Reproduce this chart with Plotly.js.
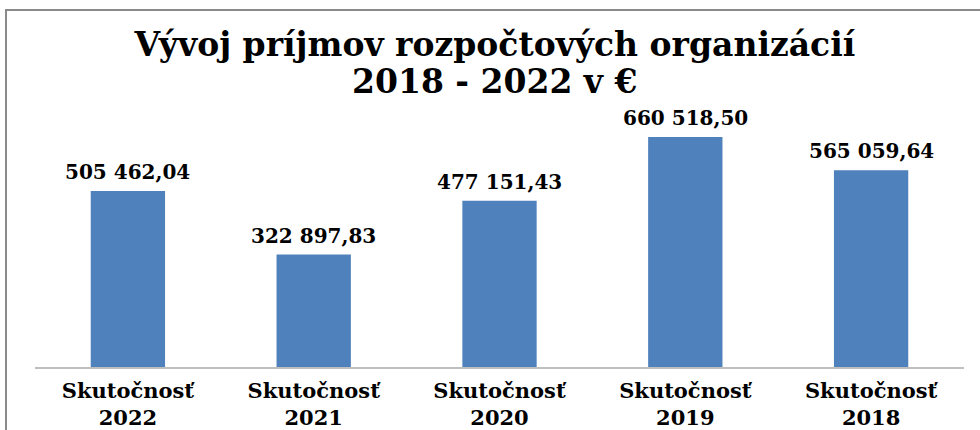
<!DOCTYPE html>
<html>
<head>
<meta charset="utf-8">
<script src="https://cdn.plot.ly/plotly-3.0.1.min.js"></script>
<style>
  html, body { margin: 0; padding: 0; background: #fff; }
  #wrap { position: relative; width: 980px; height: 430px; }
  #chart { width: 980px; height: 430px; }
  #frame { position: absolute; left: 5px; top: 9px; right: 0; bottom: 0;
           border-left: 2px solid #8a8a8a; border-top: 2px solid #8a8a8a; pointer-events: none; }
</style>
</head>
<body>
<div id="wrap">
  <div id="chart"></div>
  <div id="frame"></div>
</div>
<script>
const categoryWord = "Skutočnosť";
const years = ["2022", "2021", "2020", "2019", "2018"];
const values = [505462.04, 322897.83, 477151.43, 660518.50, 565059.64];
const titleLine1 = "Vývoj príjmov rozpočtových organizácií";
const titleLine2 = "2018 - 2022 v €";

const categories = years.map(y => categoryWord + "<br>" + y);

function fmt(v) {
  const parts = v.toFixed(2).split(".");
  const intPart = parts[0].replace(/\B(?=(\d{3})+(?!\d))/g, " ");
  return intPart + "," + parts[1];
}

const wideSerif = "DejaVu Serif, serif";

const trace = {
  type: "bar",
  x: categories,
  y: values,
  marker: { color: "#4F81BD" },
  hoverinfo: "none"
};

const annotations = categories.map((c, i) => ({
  x: c, y: values[i], xref: "x", yref: "y",
  text: "<b>" + fmt(values[i]) + "</b>",
  showarrow: false, yanchor: "bottom", yshift: 5,
  font: { family: wideSerif, size: 20, color: "#000" }
}));

annotations.push({
  x: 0.495, y: 1 + 19 / 267, xref: "paper", yref: "paper",
  text: "<b>" + titleLine2 + "</b>",
  showarrow: false, xanchor: "center", yanchor: "middle",
  font: { family: wideSerif, size: 33, color: "#000" }
});

const layout = {
  width: 980, height: 430,
  margin: { l: 35, r: 16, t: 100, b: 63 },
  paper_bgcolor: "#fff", plot_bgcolor: "#fff",
  bargap: 0.6,
  showlegend: false,
  title: {
    text: "<b>" + titleLine1 + "</b>",
    x: 0.505, xref: "container", xanchor: "center",
    y: 1 - 44 / 430, yref: "container", yanchor: "middle",
    font: { family: wideSerif, size: 33, color: "#000" }
  },
  xaxis: {
    type: "category",
    showline: true, linecolor: "#bfbfbf", linewidth: 1.5,
    ticks: "", showgrid: false, zeroline: false,
    ticklabelstandoff: 4,
    tickfont: { family: wideSerif, size: 21, color: "#000" },
    tickprefix: "<b>", ticksuffix: "</b>"
  },
  yaxis: {
    range: [0, 766800],
    visible: false, showgrid: false, zeroline: false, fixedrange: true
  },
  annotations: annotations
};

Plotly.newPlot("chart", [trace], layout, { displayModeBar: false, staticPlot: true });
</script>
</body>
</html>
